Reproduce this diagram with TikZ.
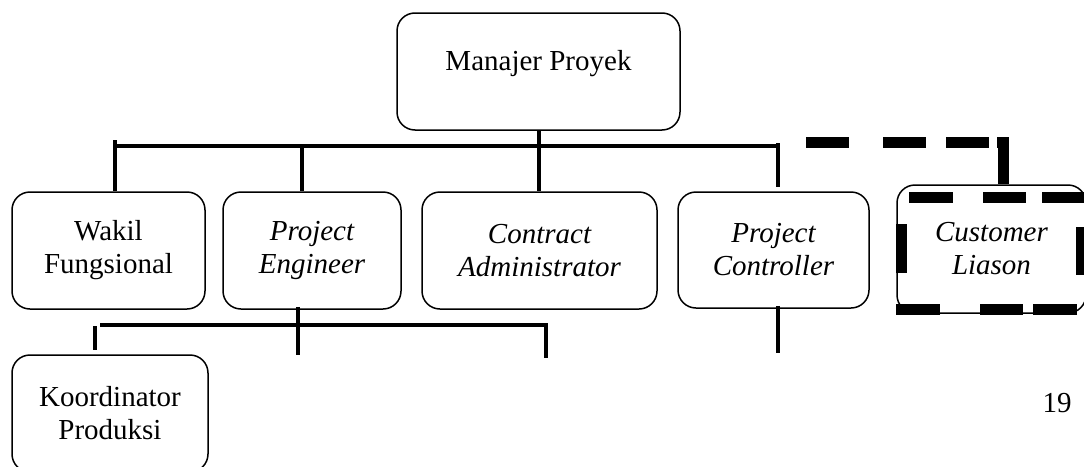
\documentclass[tikz,border=0pt]{standalone}
\usepackage{fontspec}
\setmainfont{Liberation Serif}
\tikzset{
  box/.style={draw, line width=1.5pt, rounded corners=18pt, align=center, inner sep=0pt, font=\fontsize{29}{33}\selectfont},
  itbox/.style={box, font=\fontsize{29}{33}\selectfont\itshape},
  txt/.style={inner sep=0pt, font=\fontsize{29}{33}\selectfont},
  conn/.style={line width=4pt},
  dconn/.style={line width=11pt, dash pattern=on 43pt off 34pt on 43pt off 20pt on 43pt off 8pt on 100pt off 10pt},
  dframe/.style={line width=11pt, dash phase=574.5pt,
    dash pattern=on 44pt off 30pt on 43pt off 16pt on 44.5pt off 24pt on 48pt off 38pt on 44pt off 10pt on 43pt off 40pt on 44pt off 30.5pt on 49pt off 34pt}
}
\begin{document}
\begin{tikzpicture}[x=1pt,y=-1pt]
\useasboundingbox (0,0) rectangle (1084,466);
% boxes
\node[box, minimum width=283pt, minimum height=117pt] (mp) at (538.5,71.5) {};
\node[txt] (mpt) at (538.5,64) {Manajer Proyek};
\node[box, minimum width=193pt, minimum height=117pt] (wf) at (108.5,250.5) {Wakil\\Fungsional};
\node[itbox, minimum width=178pt, minimum height=117pt] (pe) at (312,250.5) {Project\\Engineer};
\node[itbox, minimum width=235pt, minimum height=117pt] (ca) at (539.5,250.5) {Contract\\Administrator};
\node[itbox, minimum width=191pt, minimum height=116pt] (pc) at (773.5,250) {Project\\Controller};
\node[itbox, minimum width=189pt, minimum height=128pt] (cl) at (991.5,249) {Customer\\Liason};
\draw[dframe] (901.5,197.5) -- (1081,197.5) -- (1081,309) -- (901.5,309) -- cycle;
\node[box, minimum width=196pt, minimum height=117pt] (kp) at (110,413.5) {Koordinator\\Produksi};
\node[txt] (pg) at (1057,403) {19};
% upper connectors
\coordinate (h1) at (113,146);
\coordinate (h2) at (780,146);
\draw[conn] (h1) -- (h2);
\draw[conn] (mp.south) -- (mp.south |- ca.north);
\coordinate (t1) at (115,140);
\draw[conn] (t1) -- (t1 |- wf.north);
\coordinate (t2) at (302,146);
\draw[conn] (t2) -- (t2 |- pe.north);
\coordinate (t3) at (778,143);
\draw[conn, shorten >=4pt] (t3) -- (t3 |- pc.north);
% dashed connector
\coordinate (d1) at (806,142);
\coordinate (d2) at (1003,142);
\draw[dconn] (d1) -- (d2) -- (d2 |- cl.north);
% lower connectors
\coordinate (b1) at (298,355);
\draw[conn] ([yshift=3pt]pe.south -| b1) -- (b1);
\coordinate (l1) at (100,325);
\coordinate (l2) at (546,325);
\coordinate (l3) at (546,358);
\draw[conn] (l1) -- (l2) -- (l3);
\coordinate (b2) at (95,326);
\draw[conn, shorten >=4pt] (b2) -- (b2 |- kp.north);
\coordinate (b3) at (778,353);
\draw[conn] ([yshift=3pt]pc.south -| b3) -- (b3);
\end{tikzpicture}
\end{document}
